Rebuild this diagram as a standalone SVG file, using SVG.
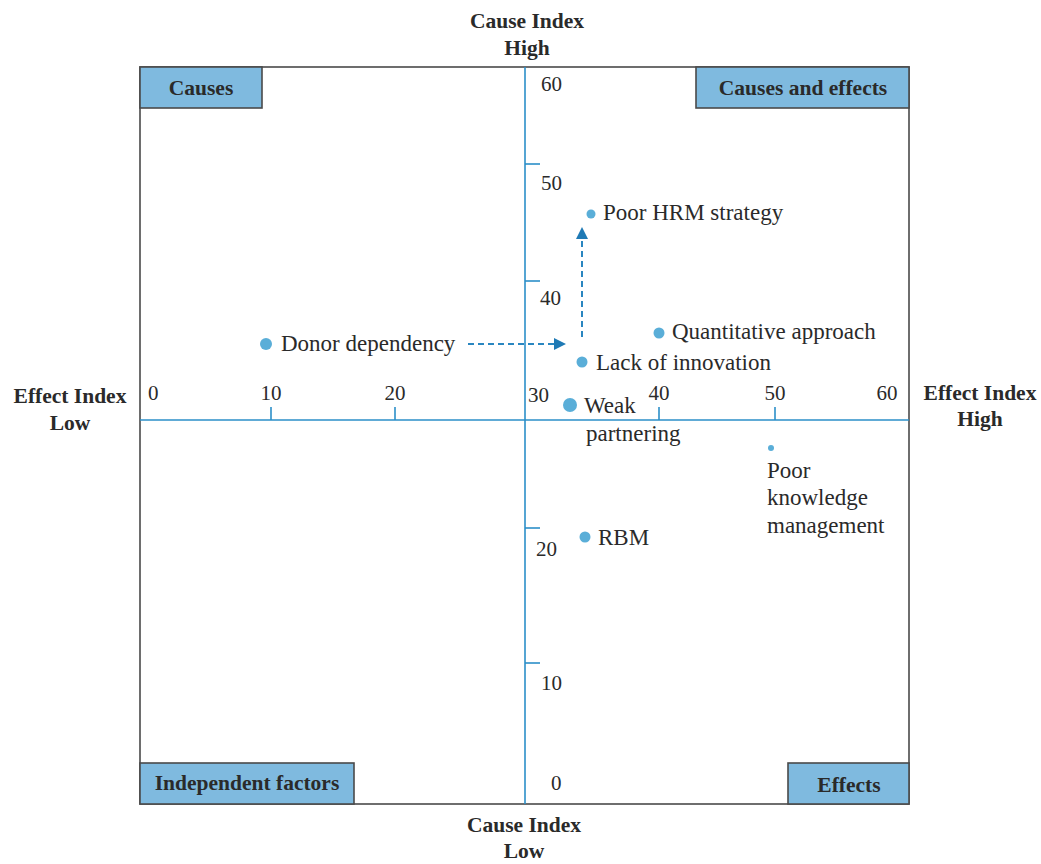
<svg xmlns="http://www.w3.org/2000/svg" width="1041" height="864" viewBox="0 0 1041 864">
  <style>
    text { font-family: "Liberation Serif", "Times New Roman", "DejaVu Serif", serif; fill: #2a2a2a; }
    .frame { fill: none; stroke: #4a4a4a; stroke-width: 1.6; }
    .axis { stroke: #2b8fc8; stroke-width: 1.6; fill: none; }
    .quad { fill: #7fbadf; stroke: #4a4a4a; stroke-width: 1.6; }
    .qlabel { font-weight: bold; font-size: 21.5px; text-anchor: middle; }
    .title { font-weight: bold; font-size: 21.5px; text-anchor: middle; }
    .num { font-size: 21px; }
    .lbl { font-size: 23px; }
    .dot { fill: #5aaed8; }
    .link { stroke: #2a86c0; stroke-width: 2; stroke-dasharray: 6 4; fill: none; }
  </style>
  <defs>
    <marker id="arrow" markerWidth="12" markerHeight="12" refX="11" refY="6" orient="auto" markerUnits="userSpaceOnUse">
      <path d="M0,0 L12,6 L0,12 Z" fill="#1f7ab5"/>
    </marker>
  </defs>

  <rect width="1041" height="864" fill="#ffffff"/>

  <!-- plot frame -->
  <rect class="frame" x="140" y="67" width="769" height="737"/>

  <!-- axes and ticks -->
  <g id="axes">
    <line class="axis" x1="525" y1="67" x2="525" y2="804"/>
    <line class="axis" x1="140" y1="420" x2="909" y2="420"/>
    <line class="axis" x1="271" y1="407" x2="271" y2="420"/>
    <line class="axis" x1="395" y1="407" x2="395" y2="420"/>
    <line class="axis" x1="659" y1="407" x2="659" y2="420"/>
    <line class="axis" x1="775" y1="407" x2="775" y2="420"/>
    <line class="axis" x1="525" y1="164" x2="540" y2="164"/>
    <line class="axis" x1="525" y1="281" x2="540" y2="281"/>
    <line class="axis" x1="525" y1="528" x2="540" y2="528"/>
    <line class="axis" x1="525" y1="663" x2="540" y2="663"/>
  </g>

  <!-- axis scale numbers -->
  <g id="scale">
    <text class="num" x="148" y="400">0</text>
    <text class="num" x="271" y="400" text-anchor="middle">10</text>
    <text class="num" x="395" y="400" text-anchor="middle">20</text>
    <text class="num" x="659" y="400" text-anchor="middle">40</text>
    <text class="num" x="775" y="400" text-anchor="middle">50</text>
    <text class="num" x="887" y="400" text-anchor="middle">60</text>
    <text class="num" x="541" y="91">60</text>
    <text class="num" x="541" y="190">50</text>
    <text class="num" x="540" y="305">40</text>
    <text class="num" x="528" y="402">30</text>
    <text class="num" x="536" y="556">20</text>
    <text class="num" x="541" y="690">10</text>
    <text class="num" x="551" y="790">0</text>
  </g>

  <!-- axis titles -->
  <g id="titles">
    <text class="title" x="527" y="28">Cause Index</text>
    <text class="title" x="527" y="55">High</text>
    <text class="title" x="524" y="832">Cause Index</text>
    <text class="title" x="524" y="858">Low</text>
    <text class="title" x="70" y="403">Effect Index</text>
    <text class="title" x="70" y="430">Low</text>
    <text class="title" x="980" y="400">Effect Index</text>
    <text class="title" x="980" y="426">High</text>
  </g>

  <!-- quadrant labels -->
  <g id="q-causes">
    <rect class="quad" x="140" y="67" width="122" height="41"/>
    <text class="qlabel" x="201" y="95">Causes</text>
  </g>
  <g id="q-causes-effects">
    <rect class="quad" x="696" y="67" width="213" height="41"/>
    <text class="qlabel" x="803" y="95">Causes and effects</text>
  </g>
  <g id="q-independent">
    <rect class="quad" x="140" y="763" width="214" height="41"/>
    <text class="qlabel" x="247" y="790">Independent factors</text>
  </g>
  <g id="q-effects">
    <rect class="quad" x="788" y="763" width="121" height="41"/>
    <text class="qlabel" x="849" y="792">Effects</text>
  </g>

  <!-- factors -->
  <g id="donor-dependency">
    <circle class="dot" cx="266" cy="344" r="6"/>
    <text class="lbl" x="281" y="351">Donor dependency</text>
  </g>
  <g id="poor-hrm">
    <circle class="dot" cx="591" cy="214" r="4.5"/>
    <text class="lbl" x="603" y="220">Poor HRM strategy</text>
  </g>
  <g id="quantitative">
    <circle class="dot" cx="659" cy="333" r="5.5"/>
    <text class="lbl" x="672" y="339">Quantitative approach</text>
  </g>
  <g id="innovation">
    <circle class="dot" cx="582" cy="362" r="5.5"/>
    <text class="lbl" x="596" y="370">Lack of innovation</text>
  </g>
  <g id="partnering">
    <circle class="dot" cx="570" cy="405" r="7"/>
    <text class="lbl" x="584" y="413">Weak</text>
    <text class="lbl" x="586" y="441">partnering</text>
  </g>
  <g id="knowledge">
    <circle class="dot" cx="771" cy="448" r="3"/>
    <text class="lbl" x="767" y="478">Poor</text>
    <text class="lbl" x="767" y="505">knowledge</text>
    <text class="lbl" x="767" y="533">management</text>
  </g>
  <g id="rbm">
    <circle class="dot" cx="585" cy="537" r="5.5"/>
    <text class="lbl" x="598" y="545">RBM</text>
  </g>

  <!-- connectors -->
  <g id="connectors">
    <line class="link" x1="468" y1="344" x2="565" y2="344" marker-end="url(#arrow)"/>
    <line class="link" x1="582" y1="337" x2="582" y2="228" marker-end="url(#arrow)"/>
  </g>
</svg>
